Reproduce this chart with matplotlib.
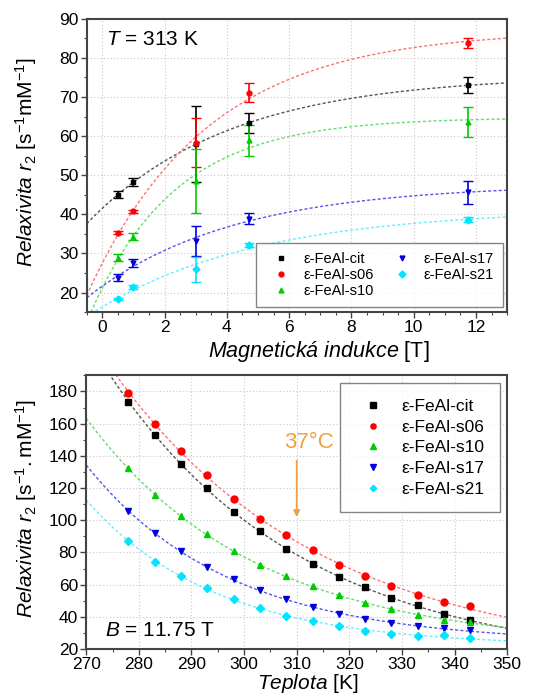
import numpy as np
import matplotlib
matplotlib.use("Agg")
import matplotlib.pyplot as plt
from matplotlib.lines import Line2D
from matplotlib.ticker import MultipleLocator

plt.rcParams['font.family'] = ['Liberation Sans', 'DejaVu Sans']
plt.rcParams['mathtext.fontset'] = 'custom'
plt.rcParams['mathtext.rm'] = 'Liberation Sans'
plt.rcParams['mathtext.it'] = 'Liberation Sans:italic'
plt.rcParams['mathtext.bf'] = 'Liberation Sans:bold'

# ---------------- data ----------------
labels = ['ε-FeAl-cit', 'ε-FeAl-s06', 'ε-FeAl-s10', 'ε-FeAl-s17', 'ε-FeAl-s21']
colors = ['#000000', '#ff0000', '#00cc00', '#0000dd', '#00e5ff']
line_colors = ['#555555', '#ff7070', '#66dd66', '#5555ee', '#66eeff']
markers = ['s', 'o', '^', 'v', 'D']

# top panel: relaxivity vs magnetic field at T = 313 K
field_T = [0.5, 1.0, 3.0, 4.7, 11.75]
r2_field = {
    'ε-FeAl-cit': [45.0, 48.3, 58.0, 63.3, 73.0],
    'ε-FeAl-s06': [35.3, 40.8, 58.3, 71.1, 83.9],
    'ε-FeAl-s10': [28.9, 34.3, 48.6, 58.9, 63.6],
    'ε-FeAl-s17': [23.8, 27.6, 33.1, 38.9, 45.6],
    'ε-FeAl-s21': [18.3, 21.4, 25.9, 32.2, 38.6],
}
r2_field_err = {
    'ε-FeAl-cit': [0.9, 1.0, 9.8, 2.6, 2.1],
    'ε-FeAl-s06': [0.3, 0.4, 6.3, 2.4, 1.3],
    'ε-FeAl-s10': [0.9, 0.9, 8.2, 4.0, 3.9],
    'ε-FeAl-s17': [0.9, 1.0, 3.8, 1.5, 3.0],
    'ε-FeAl-s21': [0.3, 0.4, 3.2, 0.5, 0.6],
}

# bottom panel: relaxivity vs temperature at B = 11.75 T
temp_K = [278, 283, 288, 293, 298, 303, 308, 313, 318, 323, 328, 333, 338, 343]
r2_temp = {
    'ε-FeAl-cit': [173.4, 153.1, 135.1, 120.0, 104.9, 93.1, 82.1, 72.8, 64.5, 58.3, 51.7, 47.1, 41.9, 37.8],
    'ε-FeAl-s06': [179.0, 159.7, 142.8, 128.3, 113.2, 100.9, 90.6, 81.3, 72.0, 65.1, 59.3, 53.7, 49.2, 46.5],
    'ε-FeAl-s10': [132.4, 115.4, 102.4, 91.4, 80.7, 72.0, 65.1, 58.9, 53.7, 48.6, 44.8, 41.3, 38.2, 36.6],
    'ε-FeAl-s17': [105.5, 92.0, 81.1, 70.7, 63.5, 56.4, 51.0, 45.9, 41.7, 38.6, 36.1, 34.1, 33.0, 32.0],
    'ε-FeAl-s21': [87.3, 74.4, 65.1, 57.9, 51.0, 45.5, 40.7, 37.2, 34.1, 31.0, 29.5, 28.3, 28.5, 26.8],
}


def fit_exp(x, y, x0, sign, taus):
    """Least-squares fit of y = A + sign*B*exp(-(x-x0)/tau) (grid over tau)."""
    x = np.asarray(x, float)
    y = np.asarray(y, float)
    best = None
    for tau in taus:
        e = np.exp(-(x - x0) / tau)
        M = np.column_stack([np.ones_like(x), sign * e])
        coef, *_ = np.linalg.lstsq(M, y, rcond=None)
        res = np.sum((M @ coef - y) ** 2)
        if best is None or res < best[0]:
            best = (res, coef, tau)
    _, (A, B), tau = best
    return lambda xx: A + sign * B * np.exp(-(np.asarray(xx) - x0) / tau)


fig = plt.figure(figsize=(5.39, 6.95), dpi=100)
ax1 = fig.add_axes([0.161, 0.551, 0.780, 0.422])
ax2 = fig.add_axes([0.160, 0.066, 0.781, 0.394])

fit_style = dict(ls=(0, (2.2, 1.6)), lw=1.0)

# ---- top panel ----
xx = np.linspace(-0.5, 13, 300)
for lab, c, lc, m in zip(labels, colors, line_colors, markers):
    f = fit_exp(field_T, r2_field[lab], 0.0, -1, np.linspace(0.5, 10, 400))
    ax1.plot(xx, f(xx), color=lc, zorder=2, **fit_style)
    ax1.errorbar(field_T, r2_field[lab], yerr=r2_field_err[lab], fmt=m, color=c,
                 ms=3.5, capsize=3.5, elinewidth=1.2, capthick=1.0, zorder=3)

ax1.set_xlim(-0.5, 13)
ax1.set_ylim(15, 90)
ax1.xaxis.set_major_locator(MultipleLocator(2))
ax1.xaxis.set_minor_locator(MultipleLocator(0.5))
ax1.yaxis.set_minor_locator(MultipleLocator(5))
ax1.set_yticks([20, 30, 40, 50, 60, 70, 80, 90])
ax1.set_xlabel(r'$\mathit{Magnetická\ indukce}$ [T]', fontsize=15.5)
ax1.set_ylabel(r'$\mathit{Relaxivita\ r}_{2}\ \mathrm{[s^{-1}mM^{-1}]}$', fontsize=15)
ax1.xaxis.set_label_coords(0.552, -0.092)
ax1.yaxis.set_label_coords(-0.114, 0.512)
ax1.text(0.045, 0.93, r'$\mathit{T}$ = 313 K', transform=ax1.transAxes,
         fontsize=15, va='center', ha='left')

handles = [Line2D([], [], marker=m, color=c, ls='none', ms=3.5) for c, m in zip(colors, markers)]
leg1 = ax1.legend(handles, labels, ncol=2, loc='lower right', fontsize=10.5,
                  frameon=True, fancybox=False, edgecolor='#666666',
                  borderpad=0.6, columnspacing=0.8, handletextpad=0.4,
                  handlelength=2.25, labelspacing=0.15, borderaxespad=0,
                  bbox_to_anchor=(0.990, 0.017))
leg1.get_frame().set_linewidth(1.0)

# ---- bottom panel ----
tt = np.linspace(270, 350, 300)
for lab, c, lc, m in zip(labels, colors, line_colors, markers):
    f = fit_exp(temp_K, r2_temp[lab], 270.0, 1, np.linspace(5, 80, 400))
    ax2.plot(tt, f(tt), color=lc, zorder=2, **fit_style)
    ax2.plot(temp_K, r2_temp[lab], ls='none', marker=m, color=c,
             ms=5 if m != 'D' else 4.3, label=lab, zorder=3)

ax2.set_xlim(270, 350)
ax2.set_ylim(20, 190)
ax2.xaxis.set_major_locator(MultipleLocator(10))
ax2.xaxis.set_minor_locator(MultipleLocator(5))
ax2.set_yticks([20, 40, 60, 80, 100, 120, 140, 160, 180])
ax2.yaxis.set_minor_locator(MultipleLocator(10))
ax2.set_xlabel(r'$\mathit{Teplota}$ [K]', fontsize=15)
ax2.set_ylabel(r'$\mathit{Relaxivita\ r}_{2}\ \mathrm{[s^{-1}.mM^{-1}]}$', fontsize=15)
ax2.xaxis.set_label_coords(0.526, -0.083)
ax2.yaxis.set_label_coords(-0.112, 0.515)
ax2.text(0.045, 0.067, r'$\mathit{B}$ = 11.75 T', transform=ax2.transAxes,
         fontsize=15, va='center', ha='left')

ax2.annotate('', xy=(310, 102), xytext=(310, 137),
             arrowprops=dict(arrowstyle='-|>', color='#f0a040', lw=1.3,
                             mutation_scale=9, shrinkA=0, shrinkB=0))
ax2.text(312.3, 148, '37°C', color='#f0a040', fontsize=16, ha='center', va='center')

leg2 = ax2.legend(loc='upper right', fontsize=12.5, frameon=True, fancybox=False,
                  edgecolor='#666666', borderpad=0.9, handletextpad=0.6,
                  handlelength=2.0, labelspacing=0.32, markerscale=0.75,
                  borderaxespad=0, bbox_to_anchor=(0.982, 0.971))
leg2.get_frame().set_linewidth(1.0)

for ax in (ax1, ax2):
    ax.grid(True, which='major', ls=(0, (1, 2)), color='#c8c8c8', lw=0.8)
    ax.set_axisbelow(True)
    for sp in ax.spines.values():
        sp.set_color('#444444')
        sp.set_linewidth(1.5)
    ax.tick_params(which='major', direction='out', length=4, width=1.0,
                   labelsize=12.5, color='#444444', pad=2)
    ax.tick_params(which='minor', direction='out', length=2.5, width=0.8, color='#444444')

fig.savefig('out.png', dpi=100)
